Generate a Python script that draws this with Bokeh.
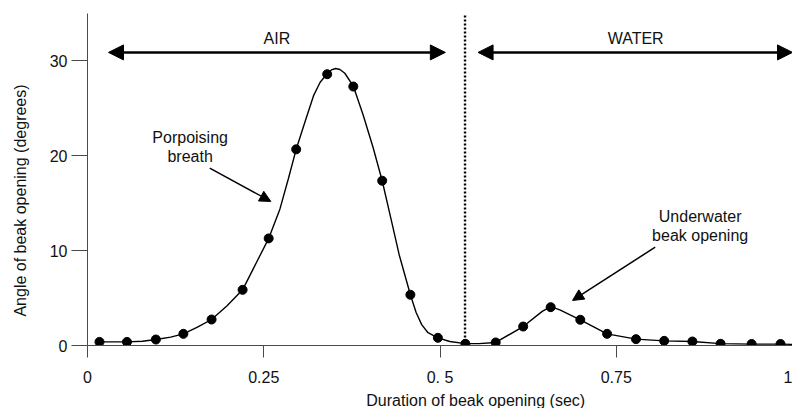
import math
from bokeh.plotting import figure
from bokeh.layouts import row, column
from bokeh.models import (LinearAxis, FixedTicker, Range1d, Label, Arrow, NormalHead,
                          CustomJSTickFormatter)
from bokeh.embed import file_html
from bokeh.resources import INLINE

# ---- data ----
pt_x = [0.017, 0.056, 0.097, 0.136, 0.176, 0.220, 0.257, 0.296, 0.340, 0.377,
        0.418, 0.458, 0.497, 0.536, 0.579, 0.618, 0.657, 0.699, 0.737, 0.778,
        0.818, 0.858, 0.898, 0.942, 0.983]
pt_y = [0.38, 0.38, 0.63, 1.23, 2.74, 5.87, 11.29, 20.68, 28.6, 27.3,
        17.37, 5.35, 0.81, 0.18, 0.32, 2.0, 4.04, 2.71, 1.23, 0.67,
        0.49, 0.42, 0.18, 0.16, 0.16]

# smooth fitted curve
curve_x = [0.017, 0.056, 0.078, 0.097, 0.118, 0.136, 0.156, 0.176, 0.198, 0.220,
           0.240, 0.257, 0.273, 0.285, 0.296, 0.309, 0.321, 0.330, 0.340, 0.346,
           0.352, 0.358, 0.365, 0.377, 0.391, 0.405, 0.418, 0.430, 0.442, 0.458,
           0.466, 0.474, 0.483, 0.497, 0.514, 0.536, 0.555, 0.579, 0.618, 0.645,
           0.657, 0.670, 0.699, 0.737, 0.778, 0.818, 0.858, 0.898, 0.942, 0.983,
           1.0]
curve_y = [0.38, 0.38, 0.45, 0.63, 0.88, 1.23, 1.93, 2.74, 4.2, 5.87,
           8.8, 11.29, 14.4, 17.6, 20.68, 23.7, 26.4, 27.75, 28.65, 29.05,
           29.2, 29.1, 28.7, 27.35, 24.3, 20.9, 17.37, 13.5, 9.6, 5.35,
           3.5, 2.2, 1.35, 0.81, 0.42, 0.2, 0.2, 0.32, 2.0, 3.6,
           4.1, 3.75, 2.71, 1.23, 0.67, 0.49, 0.42, 0.2, 0.15, 0.15,
           0.12]

x_ticks = [0, 0.25, 0.5, 0.75, 1.0]
x_tick_labels = ["0", "0.25", "0. 5", "0.75", "1"]
y_ticks = [0, 10, 20, 30]

x_title = "Duration of beak opening (sec)"
y_title = "Angle of beak opening (degrees)"

# annotation texts: (x, y, text) in data units
notes = [
    (0.2686, 32.37, "AIR"),
    (0.7775, 32.40, "WATER"),
    (0.1456, 21.92, "Porpoising"),
    (0.1456, 19.91, "breath"),
    (0.869, 13.57, "Underwater"),
    (0.869, 11.55, "beak opening"),
]

divider_x = 0.5355
air_arrow = [0.0298, 0.5076, 30.9]      # x_start, x_end, y
water_arrow = [0.554, 1.0, 30.9]
breath_arrow = [0.1734, 18.7, 0.2600, 15.19]
under_arrow = [0.8053, 10.37, 0.688, 4.75]

FONT = "Liberation Sans"
AX = "#4a4a4a"
TXT = "#111111"

# ---- layout sizes (px) ----
LEFT_W = 34          # strip holding the y-axis title
MAIN_W = 792 - LEFT_W
MAIN_H = 390
BOTTOM_H = 18        # strip holding the x-axis title
TOTAL_H = MAIN_H + BOTTOM_H


def blank(w, h):
    f = figure(width=w, height=h, output_backend="svg", toolbar_location=None,
               x_range=Range1d(0, w), y_range=Range1d(0, h),
               x_axis_type=None, y_axis_type=None, min_border=0)
    f.outline_line_color = None
    f.background_fill_color = "white"
    f.border_fill_color = "white"
    f.grid.visible = False
    return f


p = figure(width=MAIN_W, height=MAIN_H, output_backend="svg", toolbar_location=None,
           x_range=Range1d(0, 1.0), y_range=Range1d(0, 35),
           x_axis_type=None, y_axis_type=None,
           min_border_left=87 - LEFT_W, min_border_right=0, min_border_top=13,
           min_border_bottom=45)
p.outline_line_color = None
p.background_fill_color = "white"
p.border_fill_color = "white"

fmt = CustomJSTickFormatter(args=dict(tvals=x_ticks, tlabs=x_tick_labels), code="""
    for (let i = 0; i < tvals.length; i++) {
        if (Math.abs(tvals[i] - tick) < 1e-9) { return tlabs[i]; }
    }
    return String(tick);
""")
xaxis = LinearAxis(ticker=FixedTicker(ticks=x_ticks), formatter=fmt,
                   major_tick_in=0, major_tick_out=12, minor_tick_line_color=None,
                   axis_line_color=AX, major_tick_line_color=AX,
                   major_label_standoff=11, major_label_text_font=FONT,
                   major_label_text_font_size="16px", major_label_text_color=TXT)
yaxis = LinearAxis(ticker=FixedTicker(ticks=y_ticks),
                   major_tick_in=0, major_tick_out=16, minor_tick_line_color=None,
                   axis_line_color=AX, major_tick_line_color=AX,
                   major_label_standoff=4, major_label_text_font=FONT,
                   major_label_text_font_size="16px", major_label_text_color=TXT)
p.add_layout(xaxis, "below")
p.add_layout(yaxis, "left")

# dotted divider
p.segment(x0=[divider_x], y0=[0], x1=[divider_x], y1=[34.8], line_color="black",
          line_width=2.4, line_dash="2 2")

# curve and points
p.line(curve_x, curve_y, line_color="black", line_width=1.4)
p.scatter(pt_x, pt_y, size=9, fill_color="black", line_color="black")

# double arrows
for a in (air_arrow, water_arrow):
    p.add_layout(Arrow(start=NormalHead(size=15, fill_color="black", line_color="black"),
                       end=NormalHead(size=15, fill_color="black", line_color="black"),
                       x_start=a[0], y_start=a[2], x_end=a[1], y_end=a[2],
                       line_width=2.5, line_color="black"))
for a in (breath_arrow, under_arrow):
    p.add_layout(Arrow(end=NormalHead(size=11, fill_color="black", line_color="black"),
                       x_start=a[0], y_start=a[1], x_end=a[2], y_end=a[3],
                       line_width=1.5, line_color="black"))


def lab(fig, x, y, t, angle=0.0):
    fig.add_layout(Label(x=x, y=y, text=t, text_align="center", text_baseline="alphabetic",
                         angle=angle, text_font=FONT, text_font_size="16px",
                         text_color=TXT))


for nx, ny, nt in notes:
    lab(p, nx, ny, nt)

# axis titles in thin strips beside / below the plot
ylab = blank(LEFT_W, TOTAL_H)
lab(ylab, 20, TOTAL_H - 200, y_title, angle=math.pi / 2)
xlab = blank(MAIN_W, BOTTOM_H)
lab(xlab, 451.4 - LEFT_W, 8, x_title)

layout = row(ylab, column(p, xlab, spacing=0), spacing=0)
open("out.html", "w").write(file_html(layout, INLINE))
